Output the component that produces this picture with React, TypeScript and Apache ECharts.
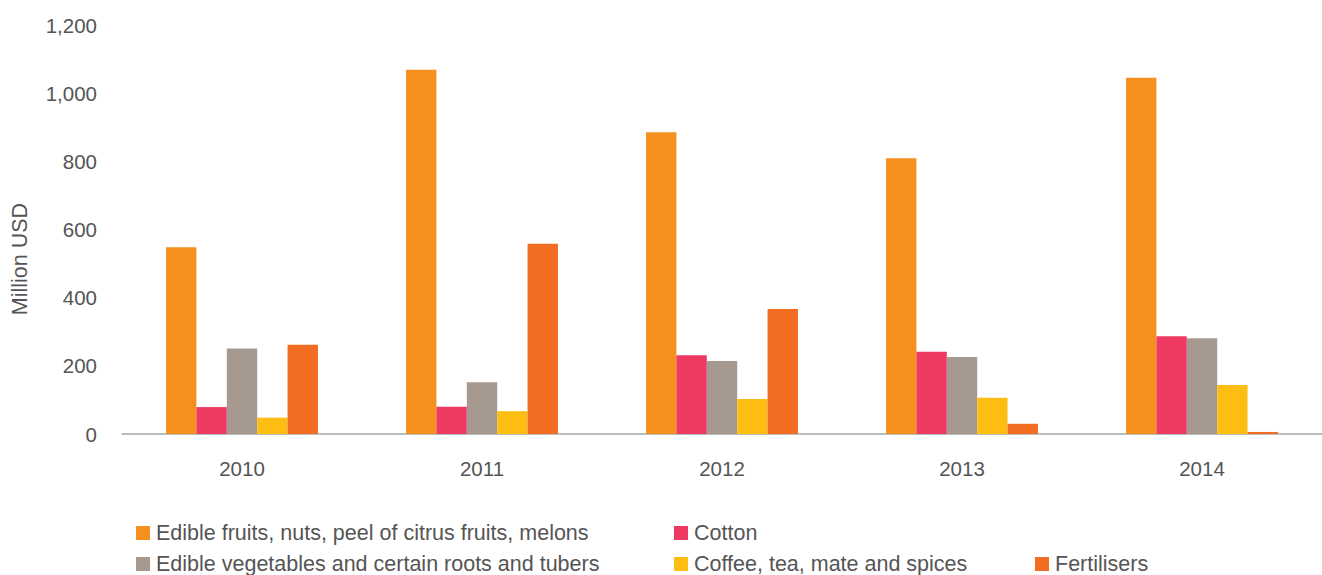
import React, { useEffect, useRef } from "react";
import * as echarts from "echarts";

const years = ["2010", "2011", "2012", "2013", "2014"];
const seriesNames = [
  "Edible fruits, nuts, peel of citrus fruits, melons",
  "Cotton",
  "Edible vegetables and certain roots and tubers",
  "Coffee, tea, mate and spices",
  "Fertilisers",
];
const fruits = [548, 1069, 885, 809, 1045];
const cotton = [79, 80, 231, 241, 287];
const vegetables = [251, 152, 214, 226, 281];
const coffee = [48, 67, 103, 106, 144];
const fertilisers = [262, 558, 367, 30, 6];
const colors = ["#F5901E", "#EE3A62", "#A69A90", "#FDBD12", "#F26C21"];
const yTicks = { min: 0, max: 1200, interval: 200 };
const yAxisTitle = "Million USD";

const FONT = "'Liberation Sans', Arial, Helvetica, sans-serif";
const TEXT = "#555555";

export default function App() {
  const ref = useRef<HTMLDivElement>(null);
  useEffect(() => {
    if (!ref.current) return;
    const chart = echarts.init(ref.current, null, { renderer: "svg" });
    const values = [fruits, cotton, vegetables, coffee, fertilisers];
    const legendPos = [
      { left: 136, top: 522 },
      { left: 674, top: 522 },
      { left: 136, top: 553 },
      { left: 674, top: 553 },
      { left: 1035, top: 553 },
    ];
    chart.setOption({
      animation: false,
      textStyle: { fontFamily: FONT },
      grid: { left: 122, right: 0, top: 25, height: 409, containLabel: false },
      legend: seriesNames.map((n, i) => ({
        data: [n],
        left: legendPos[i].left,
        top: legendPos[i].top,
        itemWidth: 14,
        itemHeight: 14,
        icon: "rect",
        padding: 0,
        textStyle: {
          fontSize: 21.5,
          color: TEXT,
          fontFamily: FONT,
          lineHeight: 14,
          padding: [0, 0, 0, 1],
        },
      })),
      graphic: [
        {
          type: "text",
          x: 20,
          y: 259,
          rotation: Math.PI / 2,
          style: {
            text: yAxisTitle,
            fontSize: 21.5,
            fontFamily: FONT,
            fill: TEXT,
            textAlign: "center",
            textVerticalAlign: "middle",
          },
        },
      ],
      xAxis: {
        type: "category",
        data: years,
        axisLine: { lineStyle: { color: "#a6a6a6", width: 1.5 } },
        axisTick: { show: false },
        axisLabel: { fontSize: 20.5, color: TEXT, margin: 24, fontFamily: FONT },
      },
      yAxis: {
        type: "value",
        min: yTicks.min,
        max: yTicks.max,
        interval: yTicks.interval,
        axisLine: { show: false },
        axisTick: { show: false },
        splitLine: { show: false },
        axisLabel: {
          fontSize: 20.5,
          color: TEXT,
          margin: 25,
          fontFamily: FONT,
          formatter: (v: number) => v.toLocaleString("en-US"),
        },
      },
      series: seriesNames.map((n, i) => ({
        name: n,
        type: "bar",
        data: values[i],
        itemStyle: { color: colors[i] },
        barGap: "0%",
        barCategoryGap: "36.7%",
      })),
    });
    return () => chart.dispose();
  }, []);
  return (
    <div
      ref={ref}
      style={{ position: "fixed", left: 0, top: 0, width: 1322, height: 575, background: "#fff" }}
    />
  );
}
